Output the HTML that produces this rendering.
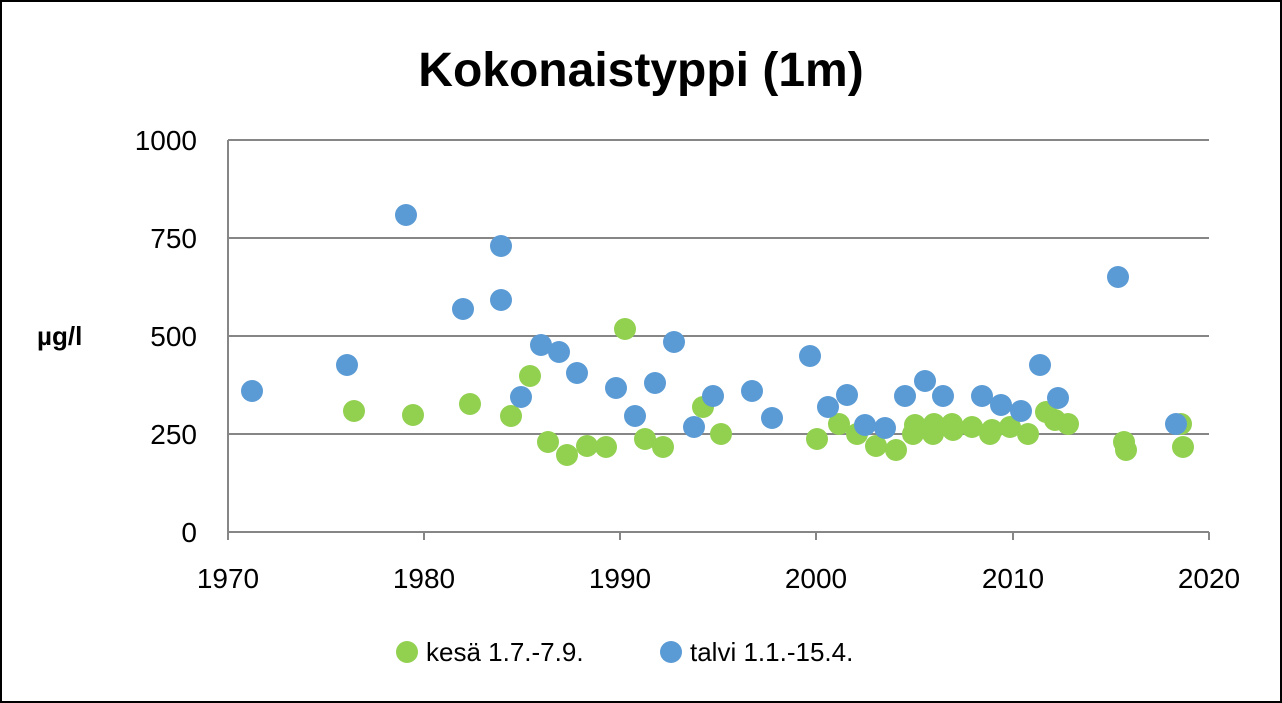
<!DOCTYPE html>
<html><head><meta charset="utf-8"><style>
html,body{margin:0;padding:0;background:#fff;}
svg{display:block;}
text{font-family:"Liberation Sans",sans-serif;}
</style></head><body>
<svg width="1282" height="703" viewBox="0 0 1282 703">
<rect x="1" y="1" width="1280" height="701" fill="#fff" stroke="#000" stroke-width="2"/>
<text x="641" y="86" text-anchor="middle" font-size="48" font-weight="bold">Kokonaistyppi (1m)</text>
<g stroke="#868686" stroke-width="2">
<line x1="228" y1="140" x2="1209" y2="140"/>
<line x1="228" y1="238" x2="1209" y2="238"/>
<line x1="228" y1="336" x2="1209" y2="336"/>
<line x1="228" y1="434" x2="1209" y2="434"/>
<line x1="228" y1="532" x2="1209" y2="532"/>
<line x1="228" y1="140" x2="228" y2="532"/>
<line x1="228" y1="532" x2="228" y2="540"/><line x1="424" y1="532" x2="424" y2="540"/><line x1="620" y1="532" x2="620" y2="540"/><line x1="816" y1="532" x2="816" y2="540"/><line x1="1013" y1="532" x2="1013" y2="540"/><line x1="1209" y1="532" x2="1209" y2="540"/>
</g>
<g font-size="28" text-anchor="end">
<text x="197" y="150">1000</text><text x="197" y="248">750</text><text x="197" y="346">500</text><text x="197" y="444">250</text><text x="197" y="542">0</text>
</g>
<g font-size="28" text-anchor="middle">
<text x="228" y="588">1970</text><text x="424" y="588">1980</text><text x="620" y="588">1990</text><text x="816" y="588">2000</text><text x="1013" y="588">2010</text><text x="1209" y="588">2020</text>
</g>
<text x="37" y="345" font-size="26" font-weight="bold">µg/l</text>
<g fill="#92D050">
<circle cx="354" cy="411" r="11"/><circle cx="413" cy="415" r="11"/><circle cx="470" cy="404" r="11"/><circle cx="511" cy="416" r="11"/><circle cx="530" cy="376" r="11"/><circle cx="548" cy="442" r="11"/><circle cx="567" cy="455" r="11"/><circle cx="587" cy="446" r="11"/><circle cx="606" cy="447" r="11"/><circle cx="625" cy="329" r="11"/><circle cx="645" cy="439" r="11"/><circle cx="663" cy="447" r="11"/><circle cx="703" cy="407" r="11"/><circle cx="721" cy="434" r="11"/><circle cx="817" cy="439" r="11"/><circle cx="839" cy="424" r="11"/><circle cx="857" cy="434" r="11"/><circle cx="876" cy="446" r="11"/><circle cx="896" cy="450" r="11"/><circle cx="913" cy="434" r="11"/><circle cx="915" cy="425" r="11"/><circle cx="933" cy="434" r="11"/><circle cx="934" cy="424" r="11"/><circle cx="953" cy="430" r="11"/><circle cx="952" cy="424" r="11"/><circle cx="972" cy="427" r="11"/><circle cx="990" cy="434" r="11"/><circle cx="992" cy="430" r="11"/><circle cx="1010" cy="427" r="11"/><circle cx="1028" cy="434" r="11"/><circle cx="1046" cy="412" r="11"/><circle cx="1055" cy="420" r="11"/><circle cx="1068" cy="424" r="11"/><circle cx="1124" cy="442" r="11"/><circle cx="1126" cy="450" r="11"/><circle cx="1181" cy="424" r="11"/><circle cx="1183" cy="447" r="11"/>
</g>
<g fill="#5B9BD5">
<circle cx="252" cy="391" r="11"/><circle cx="347" cy="365" r="11"/><circle cx="406" cy="215" r="11"/><circle cx="463" cy="309" r="11"/><circle cx="501" cy="246" r="11"/><circle cx="501" cy="300" r="11"/><circle cx="521" cy="397" r="11"/><circle cx="541" cy="345" r="11"/><circle cx="559" cy="352" r="11"/><circle cx="577" cy="373" r="11"/><circle cx="616" cy="388" r="11"/><circle cx="635" cy="416" r="11"/><circle cx="655" cy="383" r="11"/><circle cx="674" cy="342" r="11"/><circle cx="694" cy="427" r="11"/><circle cx="713" cy="396" r="11"/><circle cx="752" cy="391" r="11"/><circle cx="772" cy="418" r="11"/><circle cx="810" cy="356" r="11"/><circle cx="828" cy="407" r="11"/><circle cx="847" cy="395" r="11"/><circle cx="865" cy="425" r="11"/><circle cx="885" cy="428" r="11"/><circle cx="905" cy="396" r="11"/><circle cx="925" cy="381" r="11"/><circle cx="943" cy="396" r="11"/><circle cx="982" cy="396" r="11"/><circle cx="1001" cy="405" r="11"/><circle cx="1021" cy="411" r="11"/><circle cx="1040" cy="365" r="11"/><circle cx="1058" cy="398" r="11"/><circle cx="1118" cy="277" r="11"/><circle cx="1176" cy="424" r="11"/>
</g>
<circle cx="407" cy="652" r="11" fill="#92D050"/>
<text x="426" y="661" font-size="26">kesä 1.7.-7.9.</text>
<circle cx="671" cy="652" r="11" fill="#5B9BD5"/>
<text x="690" y="661" font-size="26">talvi 1.1.-15.4.</text>
</svg>
</body></html>
